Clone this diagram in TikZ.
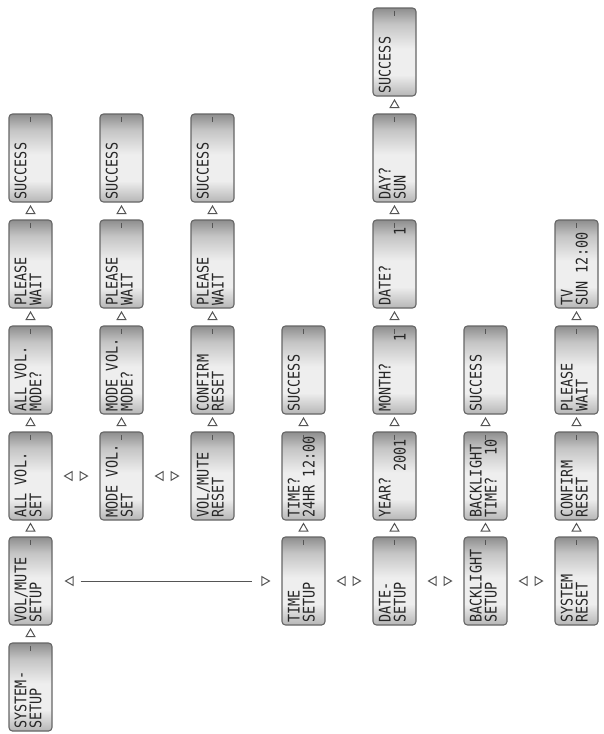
\documentclass[tikz,border=0pt]{standalone}
\usepackage{fontspec}
\usetikzlibrary{shapes.geometric}
\newfontfamily\lcdfont[FakeStretch=0.84]{DejaVu Sans Mono}
\definecolor{lcdtop}{HTML}{8E8E8E}
\definecolor{lcdmid}{HTML}{C4C4C4}
\definecolor{lcdlight}{HTML}{EEEEEE}
\definecolor{lcdbot}{HTML}{B6B6B6}
\definecolor{lcdborder}{HTML}{666666}
\definecolor{lcdink}{HTML}{262626}
\definecolor{tricol}{HTML}{555555}
\pgfdeclareverticalshading{lcdshade}{100bp}{color(0bp)=(lcdbot); color(25bp)=(lcdbot); color(37bp)=(lcdlight); color(52bp)=(lcdlight); color(66bp)=(lcdmid); color(75bp)=(lcdtop); color(100bp)=(lcdtop)}
\newcommand\lcdline[1]{\setbox0=\hbox to 88pt{\hskip2.5pt #1\hfil}\ht0=0pt \dp0=0pt \box0 }
\newcommand\lcdbox[2]{\rotatebox{90}{\vbox to 43pt{\offinterlineskip
  \kern17.5pt
  \lcdline{#1}%
  \kern15pt
  \lcdline{#2}%
  \vfil}}}
\newcommand\rt[1]{\hfill#1\hskip7pt}
\tikzset{
  lcd/.style={draw=lcdborder, line width=1.1pt, rounded corners=3.5pt,
    minimum width=43pt, minimum height=88pt, inner sep=0pt,
    shading=lcdshade, text=lcdink,
    font=\lcdfont\fontsize{16pt}{15pt}\selectfont},
  lcdmark/.style={draw=tricol, line width=1.6pt},
  triu/.style={regular polygon, regular polygon sides=3, draw=tricol,
    line width=1pt, minimum size=10pt, inner sep=0pt, fill=white},
  tril/.style={triu, shape border rotate=90},
  trir/.style={triu, shape border rotate=-90},
  conn/.style={draw=tricol, line width=1pt},
}
\begin{document}
\begin{tikzpicture}[x=1pt,y=1pt]
\fill[white] (0,0) rectangle (604,-734);
\useasboundingbox (0,0) rectangle (604,-734);
% column 1
\node[lcd] (c1r1) at (30.5,-158) {\lcdbox{SUCCESS}{}};
\node[lcd] (c1r2) at (30.5,-264) {\lcdbox{PLEASE}{WAIT}};
\node[lcd] (c1r3) at (30.5,-370) {\lcdbox{ALL VOL.}{MODE?}};
\node[lcd] (c1r4) at (30.5,-476) {\lcdbox{ALL VOL.}{SET}};
\node[lcd] (c1r5) at (30.5,-581) {\lcdbox{VOL/MUTE}{SETUP}};
\node[lcd] (c1r6) at (30.5,-687) {\lcdbox{SYSTEM-}{SETUP}};
% column 2
\node[lcd] (c2r1) at (121.5,-158) {\lcdbox{SUCCESS}{}};
\node[lcd] (c2r2) at (121.5,-264) {\lcdbox{PLEASE}{WAIT}};
\node[lcd] (c2r3) at (121.5,-370) {\lcdbox{MODE VOL.}{MODE?}};
\node[lcd] (c2r4) at (121.5,-476) {\lcdbox{MODE VOL.}{SET}};
% column 3
\node[lcd] (c3r1) at (212.5,-158) {\lcdbox{SUCCESS}{}};
\node[lcd] (c3r2) at (212.5,-264) {\lcdbox{PLEASE}{WAIT}};
\node[lcd] (c3r3) at (212.5,-370) {\lcdbox{CONFIRM}{RESET}};
\node[lcd] (c3r4) at (212.5,-476) {\lcdbox{VOL/MUTE}{RESET}};
% column 4
\node[lcd] (c4r3) at (303.5,-370) {\lcdbox{SUCCESS}{}};
\node[lcd] (c4r4) at (303.5,-476) {\lcdbox{TIME?}{24HR 12:00}};
\node[lcd] (c4r5) at (303.5,-581) {\lcdbox{TIME}{SETUP}};
% column 5
\node[lcd] (c5r0) at (394.5,-52) {\lcdbox{SUCCESS}{}};
\node[lcd] (c5r1) at (394.5,-158) {\lcdbox{DAY?}{SUN}};
\node[lcd] (c5r2) at (394.5,-264) {\lcdbox{DATE?}{\rt{1}}};
\node[lcd] (c5r3) at (394.5,-370) {\lcdbox{MONTH?}{\rt{1}}};
\node[lcd] (c5r4) at (394.5,-476) {\lcdbox{YEAR?}{\rt{2001}}};
\node[lcd] (c5r5) at (394.5,-581) {\lcdbox{DATE-}{SETUP}};
% column 6
\node[lcd] (c6r3) at (485.5,-370) {\lcdbox{SUCCESS}{}};
\node[lcd] (c6r4) at (485.5,-476) {\lcdbox{BACKLIGHT}{TIME?\rt{10}}};
\node[lcd] (c6r5) at (485.5,-581) {\lcdbox{BACKLIGHT}{SETUP}};
% column 7
\node[lcd] (c7r2) at (576.5,-264) {\lcdbox{TV}{SUN 12:00}};
\node[lcd] (c7r3) at (576.5,-370) {\lcdbox{PLEASE}{WAIT}};
\node[lcd] (c7r4) at (576.5,-476) {\lcdbox{CONFIRM}{RESET}};
\node[lcd] (c7r5) at (576.5,-581) {\lcdbox{SYSTEM}{RESET}};
% indicator marks at the top of each display
\foreach \n in {c1r1,c1r2,c1r3,c1r4,c1r5,c1r6,c2r1,c2r2,c2r3,c2r4,
  c3r1,c3r2,c3r3,c3r4,c4r3,c4r4,c4r5,c5r0,c5r1,c5r2,c5r3,c5r4,c5r5,
  c6r3,c6r4,c6r5,c7r2,c7r3,c7r4,c7r5}
  \draw[lcdmark] ([yshift=-3.5pt]\n.north) -- ([yshift=-8.5pt]\n.north);
% vertical steps
\path (c1r6.north) -- node[triu]{} (c1r5.south);
\path (c1r5.north) -- node[triu]{} (c1r4.south);
\path (c1r4.north) -- node[triu]{} (c1r3.south);
\path (c1r3.north) -- node[triu]{} (c1r2.south);
\path (c1r2.north) -- node[triu]{} (c1r1.south);
\path (c2r4.north) -- node[triu]{} (c2r3.south);
\path (c2r3.north) -- node[triu]{} (c2r2.south);
\path (c2r2.north) -- node[triu]{} (c2r1.south);
\path (c3r4.north) -- node[triu]{} (c3r3.south);
\path (c3r3.north) -- node[triu]{} (c3r2.south);
\path (c3r2.north) -- node[triu]{} (c3r1.south);
\path (c4r5.north) -- node[triu]{} (c4r4.south);
\path (c4r4.north) -- node[triu]{} (c4r3.south);
\path (c5r5.north) -- node[triu]{} (c5r4.south);
\path (c5r4.north) -- node[triu]{} (c5r3.south);
\path (c5r3.north) -- node[triu]{} (c5r2.south);
\path (c5r2.north) -- node[triu]{} (c5r1.south);
\path (c5r1.north) -- node[triu]{} (c5r0.south);
\path (c6r5.north) -- node[triu]{} (c6r4.south);
\path (c6r4.north) -- node[triu]{} (c6r3.south);
\path (c7r5.north) -- node[triu]{} (c7r4.south);
\path (c7r4.north) -- node[triu]{} (c7r3.south);
\path (c7r3.north) -- node[triu]{} (c7r2.south);
% horizontal pairs
\path (c1r4.east) -- node[tril, xshift=-6.5pt]{} node[trir, xshift=6.5pt]{} (c2r4.west);
\path (c2r4.east) -- node[tril, xshift=-6.5pt]{} node[trir, xshift=6.5pt]{} (c3r4.west);
\path (c4r5.east) -- node[tril, xshift=-6.5pt]{} node[trir, xshift=6.5pt]{} (c5r5.west);
\path (c5r5.east) -- node[tril, xshift=-6.5pt]{} node[trir, xshift=6.5pt]{} (c6r5.west);
\path (c6r5.east) -- node[tril, xshift=-6.5pt]{} node[trir, xshift=6.5pt]{} (c7r5.west);
% long link
\draw[conn] ([xshift=28pt]c1r5.east) -- ([xshift=-29pt]c4r5.west)
  node[pos=0, xshift=-10pt, tril]{} node[pos=1, xshift=12pt, trir]{};
\end{tikzpicture}
\end{document}
